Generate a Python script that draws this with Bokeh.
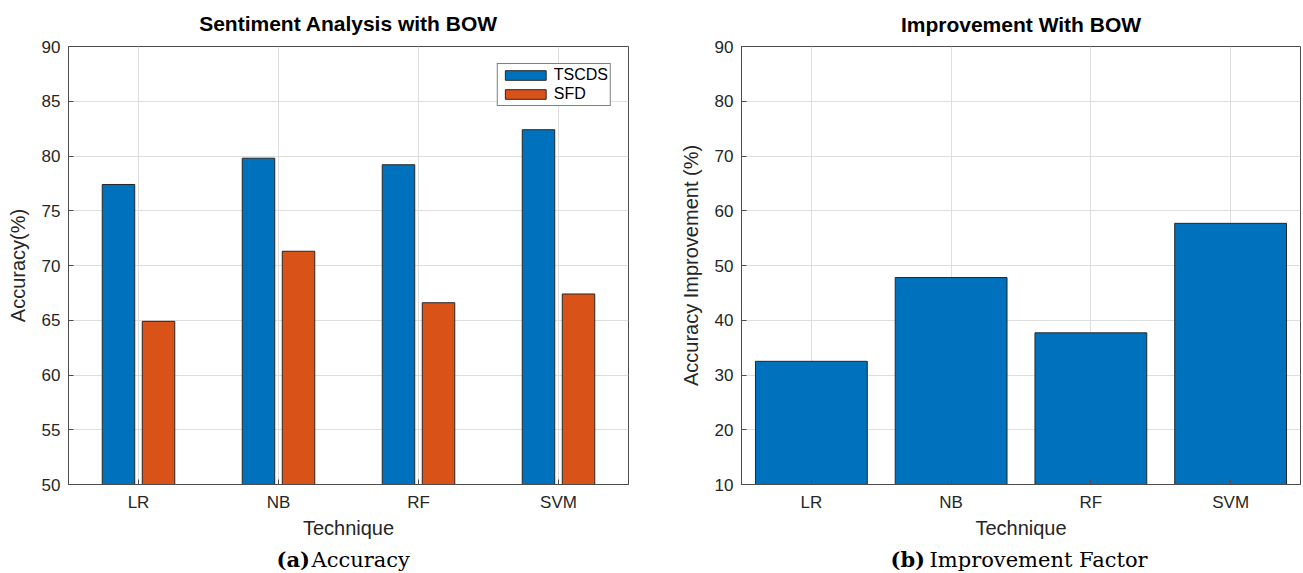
from bokeh.plotting import figure
from bokeh.layouts import row, column
from bokeh.models import FixedTicker, Range1d, FactorRange, ColumnDataSource
from bokeh.core.properties import value
from bokeh.transform import dodge
from bokeh.embed import file_html
from bokeh.resources import INLINE

techniques = ["LR", "NB", "RF", "SVM"]
tscds = [77.4, 79.8, 79.2, 82.4]
sfd = [64.9, 71.3, 66.6, 67.4]
improvement = [32.5, 47.8, 37.7, 57.7]
left_ticks = [50, 55, 60, 65, 70, 75, 80, 85, 90]
right_ticks = [10, 20, 30, 40, 50, 60, 70, 80, 90]
titles = ["Sentiment Analysis with BOW", "Improvement With BOW"]
caption_tags = ["(a)", "(b)"]
caption_texts = ["Accuracy", "Improvement Factor"]

BLUE = "#0072BD"
ORANGE = "#D95319"
EDGE = "#262626"
AXC = "#4d4d4d"
TXT = "#262626"
SANS = "Liberation Sans"
SERIF = "DejaVu Serif"


def style(p, ticks, ylabel):
    p.outline_line_color = AXC
    p.outline_line_width = 1
    p.outline_line_alpha = 1
    p.background_fill_color = "white"
    p.border_fill_color = "white"
    p.yaxis.ticker = FixedTicker(ticks=ticks)
    for ax in (p.xaxis[0], p.yaxis[0]):
        ax.axis_line_color = AXC
        ax.major_tick_line_color = AXC
        ax.major_tick_in = 5
        ax.major_tick_out = 0
        ax.minor_tick_line_color = None
        ax.major_label_text_font = SANS
        ax.major_label_text_font_size = "17px"
        ax.major_label_text_color = TXT
        ax.axis_label_text_font = SANS
        ax.axis_label_text_font_size = "20px"
        ax.axis_label_text_font_style = "normal"
        ax.axis_label_text_color = TXT
        ax.major_label_standoff = 8
    p.xaxis.axis_label = "Technique"
    p.xaxis.axis_label_standoff = 2
    p.yaxis.axis_label = ylabel
    p.yaxis.axis_label_standoff = 10
    p.xgrid.grid_line_color = "#dedede"
    p.ygrid.grid_line_color = "#dedede"


def strip(h):
    s = figure(width=1303, height=h, x_range=Range1d(0, 1303), y_range=Range1d(0, h),
               output_backend="svg", toolbar_location=None, min_border=0)
    s.axis.visible = False
    s.grid.visible = False
    s.outline_line_color = None
    return s


# ---- titles strip ----
top = strip(36)
top.text(x=[348, 1020.5], y=[12.6, 11.6], text=titles, text_font=value(SANS),
         text_font_style="bold", text_font_size="21px", text_baseline="middle",
         text_align="center", text_color="#000000")

# ---- left chart ----
src = ColumnDataSource(dict(tech=techniques, tscds=tscds, sfd=sfd))
p1 = figure(width=650, height=508, x_range=FactorRange(factors=techniques),
            y_range=Range1d(50, 90), output_backend="svg", toolbar_location=None,
            min_border_left=68, min_border_right=22, min_border_top=7, min_border_bottom=60)
p1.vbar(x=dodge("tech", -0.143, range=p1.x_range), top="tscds", bottom=0, width=0.232,
        source=src, fill_color=BLUE, line_color=EDGE, line_width=1, legend_label="TSCDS")
p1.vbar(x=dodge("tech", 0.143, range=p1.x_range), top="sfd", bottom=0, width=0.232,
        source=src, fill_color=ORANGE, line_color=EDGE, line_width=1, legend_label="SFD")
style(p1, left_ticks, "Accuracy(%)")
lg = p1.legend[0]
lg.location = "top_right"
lg.margin = 17
lg.padding = 2
lg.spacing = 1
lg.glyph_width = 51
lg.glyph_height = 12
lg.label_height = 16
lg.label_standoff = 3
lg.label_text_font = SANS
lg.label_text_font_size = "16px"
lg.label_text_color = "#000000"
lg.border_line_color = "#000000"
lg.border_line_width = 1
lg.background_fill_alpha = 1

# ---- right chart ----
src2 = ColumnDataSource(dict(tech=techniques, imp=improvement))
p2 = figure(width=653, height=508, x_range=FactorRange(factors=techniques),
            y_range=Range1d(10, 90), output_backend="svg", toolbar_location=None,
            min_border_left=91, min_border_right=3, min_border_top=10, min_border_bottom=57)
p2.vbar(x="tech", top="imp", bottom=0, width=0.8, source=src2,
        fill_color=BLUE, line_color=EDGE, line_width=1)
style(p2, right_ticks, "Accuracy Improvement (%)")

# ---- captions strip ----
cap = strip(29)
cap.text(x=[276, 890], y=[13.6, 13.6], text=caption_tags, text_font=value(SERIF),
         text_font_style="bold", text_font_size="21px", text_baseline="middle",
         text_align="left", text_color="#000000")
cap.text(x=[311, 929], y=[13.6, 13.6], text=caption_texts, text_font=value(SERIF),
         text_font_size="21px", text_baseline="middle",
         text_align="left", text_color="#000000")

layout = column(top, row(p1, p2), cap, spacing=0)
open("out.html", "w").write(file_html(layout, INLINE))
